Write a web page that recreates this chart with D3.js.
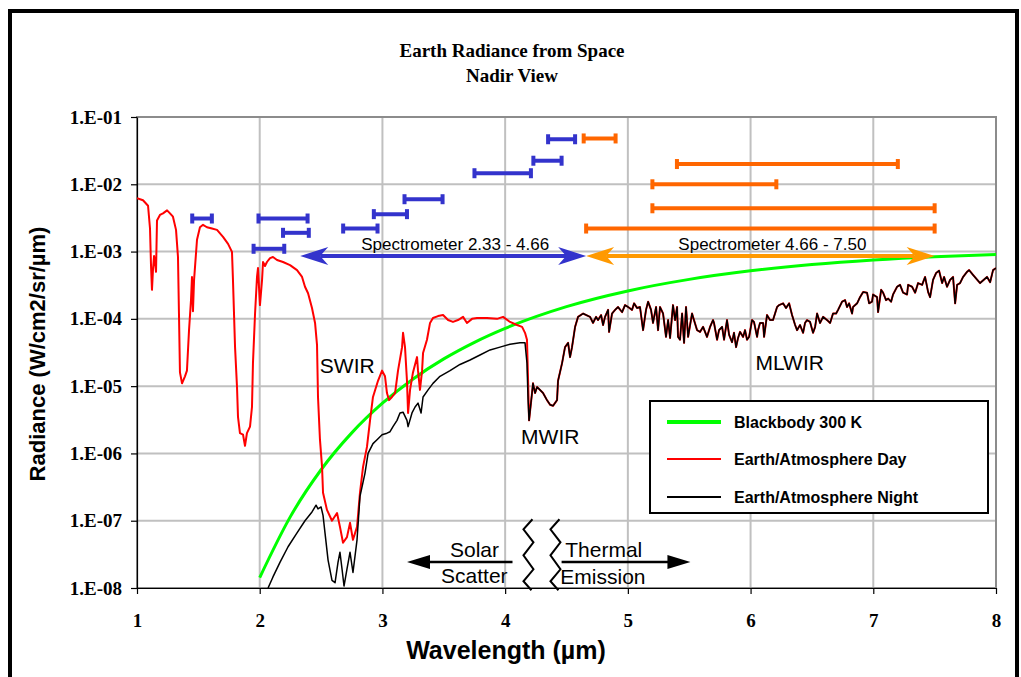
<!DOCTYPE html>
<html lang="en">
<head>
<meta charset="UTF-8">
<title>Earth Radiance from Space</title>
<script src="https://cdn.jsdelivr.net/npm/d3@7"></script>
<style>
  body { margin: 0; background: #fff; }
  svg { display: block; }
</style>
</head>
<body>
<svg width="1021" height="677"></svg>
<script>
// --- data (wavelength in µm, radiance in W/cm2/sr/µm) ---
const bbWl  = [2.0, 2.25, 2.5, 2.75, 3.0, 3.25, 3.5, 3.75, 4.0, 4.5, 5.0, 5.5, 6.0, 6.5, 7.0, 7.5, 8.0];
const bbRad = [1.43e-8, 1.15e-7, 5.72e-7, 2.02e-6, 5.57e-6, 1.28e-5, 2.54e-5, 4.48e-5, 7.22e-5,
               1.52e-4, 2.60e-4, 3.86e-4, 5.17e-4, 6.42e-4, 7.51e-4, 8.40e-4, 9.07e-4];

// day trace up to the 4.2 µm CO2 band
const dayWl = [1.000,1.049,1.090,1.106,1.114,1.122,1.130,1.139,1.147,1.155,
  1.163,1.187,1.212,1.245,1.269,1.293,1.318,1.334,1.342,1.350,
  1.367,1.391,1.407,1.424,1.440,1.448,1.456,1.465,1.489,1.513,
  1.538,1.570,1.611,1.652,1.701,1.742,1.774,1.782,1.799,1.815,
  1.823,1.839,1.864,1.880,1.896,1.921,1.937,1.945,1.962,1.978,
  1.986,2.002,2.019,2.027,2.043,2.059,2.084,2.108,2.141,2.190,
  2.247,2.304,2.345,2.369,2.394,2.426,2.451,2.467,2.475,2.491,
  2.508,2.516,2.548,2.589,2.630,2.654,2.679,2.711,2.736,2.760,
  2.793,2.817,2.842,2.874,2.899,2.923,2.964,2.997,3.021,3.037,
  3.054,3.078,3.103,3.127,3.160,3.168,3.184,3.200,3.209,3.225,
  3.249,3.282,3.290,3.306,3.323,3.331,3.363,3.388,3.412,3.453,
  3.494,3.535,3.575,3.616,3.657,3.689,3.730,3.771,3.852,3.934,
  3.983,4.040,4.097,4.138,4.162,4.178,4.187];
const dayRad = [6.2e-3,5.8e-3,4.8e-3,2.2e-3,6.3e-4,2.7e-4,5.3e-4,8.6e-4,7.0e-4,5.0e-4,
  2.9e-3,3.5e-3,3.7e-3,4.1e-3,3.7e-3,3.3e-3,2.1e-3,8.3e-4,1.2e-4,1.6e-5,
  1.1e-5,1.4e-5,1.7e-5,6.8e-5,1.9e-4,4.2e-4,1.3e-4,3.8e-4,1.5e-3,2.3e-3,
  2.5e-3,2.3e-3,2.2e-3,2.1e-3,1.65e-3,1.3e-3,9.9e-4,3.8e-4,3.8e-5,9.7e-6,
  3.5e-6,2.0e-6,1.9e-6,1.3e-6,2.0e-6,2.5e-6,4.9e-6,2.2e-5,1.2e-4,4.2e-4,
  5.7e-4,1.6e-4,3.8e-4,7.0e-4,6.1e-4,7.0e-4,8.0e-4,8.3e-4,7.5e-4,7.0e-4,
  6.3e-4,5.3e-4,4.2e-4,3.0e-4,2.4e-4,1.45e-4,8.7e-5,4.1e-5,6.9e-6,1.6e-6,
  6.3e-7,2.6e-7,1.45e-7,1.0e-7,1.3e-7,8.1e-8,4.7e-8,5.7e-8,9.3e-8,5.2e-8,
  8.1e-8,2.6e-7,6.3e-7,1.25e-6,3.1e-6,6.9e-6,1.2e-5,1.7e-5,1.4e-5,7.9e-6,
  6.2e-6,6.9e-6,7.9e-6,1.7e-5,3.8e-5,6.2e-5,3.8e-5,1.2e-5,4.0e-6,8.8e-6,
  1.6e-5,2.7e-5,1.7e-5,8.8e-6,1.7e-5,3.1e-5,4.9e-5,8.7e-5,1.03e-4,1.1e-4,
  1.14e-4,9.6e-5,9.0e-5,9.6e-5,1.07e-4,8.7e-5,1.0e-4,1.03e-4,1.03e-4,1.0e-4,
  1.07e-4,9.0e-5,8.1e-5,7.6e-5,6.2e-5,4.9e-5,1.2e-5];

// night trace up to the same band
const nightWl = [2.068,2.108,2.165,2.231,2.304,2.369,2.426,2.459,2.475,2.500,
  2.516,2.532,2.557,2.589,2.614,2.638,2.654,2.671,2.687,2.711,
  2.736,2.760,2.793,2.817,2.858,2.883,2.923,2.956,2.997,3.037,
  3.062,3.086,3.119,3.143,3.168,3.200,3.209,3.241,3.266,3.290,
  3.315,3.331,3.372,3.412,3.469,3.551,3.632,3.714,3.795,3.877,
  3.958,4.040,4.121,4.162,4.178,4.187];
const nightRad = [1.0e-8,1.46e-8,2.4e-8,4.1e-8,6.6e-8,1.0e-7,1.35e-7,1.7e-7,1.5e-7,1.6e-7,
  1.2e-7,6.6e-8,2.6e-8,1.3e-8,1.2e-8,2.4e-8,3.4e-8,1.9e-8,1.07e-8,1.9e-8,
  3.4e-8,1.7e-8,5.2e-8,2.3e-7,5.1e-7,1.0e-6,1.4e-6,1.6e-6,1.9e-6,2.0e-6,
  2.1e-6,2.5e-6,3.1e-6,4.0e-6,4.1e-6,3.1e-6,2.5e-6,4.0e-6,4.9e-6,5.6e-6,
  4.0e-6,6.9e-6,8.8e-6,1.1e-5,1.4e-5,1.7e-5,2.1e-5,2.45e-5,2.9e-5,3.45e-5,
  3.8e-5,4.2e-5,4.4e-5,4.4e-5,2.2e-5,6.2e-6];

// beyond 4.2 µm the day and night traces lie on top of each other
const tailWl = [4.195,4.219,4.227,4.244,4.260,4.284,4.309,4.341,4.366,4.390,
  4.423,4.431,4.464,4.488,4.513,4.529,4.545,4.570,4.594,4.635,
  4.692,4.716,4.741,4.757,4.782,4.798,4.814,4.839,4.847,4.871,
  4.896,4.920,4.953,4.977,5.002,5.034,5.051,5.075,5.099,5.124,
  5.148,5.165,5.189,5.205,5.230,5.246,5.262,5.287,5.311,5.328,
  5.344,5.368,5.385,5.401,5.409,5.425,5.442,5.458,5.474,5.491,
  5.523,5.531,5.564,5.588,5.613,5.629,5.645,5.670,5.694,5.702,
  5.727,5.743,5.768,5.784,5.808,5.825,5.849,5.865,5.882,5.898,
  5.914,5.939,5.955,5.971,5.988,6.012,6.028,6.053,6.061,6.077,
  6.102,6.110,6.134,6.159,6.183,6.216,6.232,6.265,6.289,6.314,
  6.338,6.363,6.379,6.403,6.428,6.444,6.460,6.485,6.509,6.526,
  6.542,6.566,6.591,6.623,6.648,6.672,6.697,6.713,6.746,6.770,
  6.786,6.803,6.827,6.835,6.868,6.892,6.917,6.949,6.966,6.990,
  6.998,7.031,7.039,7.064,7.080,7.104,7.121,7.145,7.161,7.194,
  7.218,7.243,7.275,7.284,7.316,7.341,7.365,7.398,7.422,7.447,
  7.463,7.487,7.512,7.536,7.561,7.577,7.601,7.626,7.650,7.667,
  7.683,7.707,7.732,7.764,7.781,7.813,7.870,7.927,7.952,7.976,
  8.000];
const tailRad = [3.1e-6,7.9e-6,1.1e-5,7.9e-6,9.7e-6,8.8e-6,7.9e-6,6.2e-6,5.3e-6,5.1e-6,
  6.2e-6,1.2e-5,2.2e-5,3.8e-5,4.4e-5,2.7e-5,3.8e-5,7.6e-5,1.07e-4,1.2e-4,
  1.07e-4,8.7e-5,1.07e-4,9.6e-5,1.14e-4,8.1e-5,1.07e-4,1.36e-4,6.4e-5,1.2e-4,
  1.36e-4,1.5e-4,1.26e-4,1.6e-4,1.5e-4,1.36e-4,1.7e-4,1.45e-4,1.5e-4,6.8e-5,
  1.36e-4,1.8e-4,1.36e-4,8.7e-5,1.5e-4,6.8e-5,1.5e-4,1.2e-4,5.4e-5,9.6e-5,
  5.2e-5,1.6e-4,9.6e-5,1.5e-4,5.4e-5,4.9e-5,1.2e-4,4.4e-5,1.5e-4,5.4e-5,
  1.2e-4,1.07e-4,6.8e-5,6.4e-5,7.6e-5,6.4e-5,5.4e-5,7.6e-5,9.6e-5,8.7e-5,
  4.9e-5,6.8e-5,7.6e-5,4.9e-5,9.6e-5,5.8e-5,4.5e-5,6.2e-5,3.8e-5,5.2e-5,
  6.4e-5,5.4e-5,6.8e-5,4.9e-5,5.4e-5,9.6e-5,9.0e-5,5.4e-5,6.8e-5,8.7e-5,
  8.7e-5,5.4e-5,1.14e-4,9.6e-5,9.6e-5,1.5e-4,1.6e-4,1.7e-4,1.45e-4,1.7e-4,
  1.14e-4,8.1e-5,6.8e-5,8.1e-5,6.2e-5,8.7e-5,9.6e-5,9.0e-5,6.2e-5,7.6e-5,
  1.2e-4,8.7e-5,1.07e-4,9.6e-5,8.7e-5,1.2e-4,1.2e-4,1.36e-4,1.8e-4,1.9e-4,
  1.5e-4,1.7e-4,1.2e-4,1.5e-4,1.7e-4,2.1e-4,2.5e-4,2.45e-4,1.7e-4,1.8e-4,
  2.3e-4,2.1e-4,1.26e-4,2.7e-4,2.45e-4,1.9e-4,2.0e-4,1.8e-4,2.3e-4,3.0e-4,
  3.2e-4,2.45e-4,2.3e-4,3.2e-4,3.0e-4,2.45e-4,3.4e-4,3.2e-4,4.2e-4,2.5e-4,
  2.1e-4,3.8e-4,4.8e-4,5.2e-4,3.4e-4,4.2e-4,3.0e-4,3.8e-4,4.2e-4,1.7e-4,
  3.2e-4,3.4e-4,4.2e-4,5.0e-4,5.3e-4,4.5e-4,3.4e-4,4.2e-4,3.5e-4,5.3e-4,
  5.7e-4];

// instrument bands (from, to in µm; radiance level they are drawn at)
const swirBands = [
  {from: 1.45, to: 1.61, rad: 3.1e-3}, {from: 1.99, to: 2.39, rad: 3.1e-3},
  {from: 2.19, to: 2.40, rad: 1.9e-3}, {from: 1.95, to: 2.20, rad: 1.1e-3},
  {from: 2.68, to: 2.96, rad: 2.2e-3}, {from: 2.93, to: 3.20, rad: 3.6e-3},
  {from: 3.18, to: 3.49, rad: 6.0e-3}, {from: 3.75, to: 4.21, rad: 1.46e-2},
  {from: 4.23, to: 4.46, rad: 2.24e-2}, {from: 4.35, to: 4.57, rad: 4.67e-2}];
const lwirBands = [
  {from: 4.64, to: 4.90, rad: 4.8e-2}, {from: 5.40, to: 7.20, rad: 2.0e-2},
  {from: 5.20, to: 6.21, rad: 1.0e-2}, {from: 5.20, to: 7.50, rad: 4.4e-3},
  {from: 4.66, to: 7.50, rad: 2.2e-3}];
const spectrometers = [
  {from: 2.33, to: 4.66, label: "Spectrometer 2.33 - 4.66", color: "#3333cc"},
  {from: 4.66, to: 7.50, label: "Spectrometer 4.66 - 7.50", color: "#ff9900"}];
const spectroRad = 8.6e-4;

const xTicks = [1, 2, 3, 4, 5, 6, 7, 8];
const yTicks = [1e-1, 1e-2, 1e-3, 1e-4, 1e-5, 1e-6, 1e-7, 1e-8];
const yTickLabels = ["1.E-01", "1.E-02", "1.E-03", "1.E-04", "1.E-05", "1.E-06", "1.E-07", "1.E-08"];

const SANS = "'Liberation Sans', Arial, sans-serif";
const SERIF = "'Liberation Serif', 'Times New Roman', serif";

const svg = d3.select("svg");
const plotL = 137, plotR = 996, plotT = 117, plotB = 588;

const x = d3.scaleLinear().domain([1, 8]).range([plotL, plotR]);
const y = d3.scaleLog().domain([1e-8, 1e-1]).range([plotB, plotT]);

svg.append("rect").attr("width", 1021).attr("height", 677).attr("fill", "#fff");
// outer frame
svg.append("rect").attr("x", 10).attr("y", 11).attr("width", 1007).attr("height", 720)
  .attr("fill", "none").attr("stroke", "#000").attr("stroke-width", 4);

// title
svg.append("text").attr("x", 512).attr("y", 57).attr("text-anchor", "middle")
  .attr("font-family", SERIF).attr("font-weight", "bold").attr("font-size", 19)
  .text("Earth Radiance from Space");
svg.append("text").attr("x", 512).attr("y", 82).attr("text-anchor", "middle")
  .attr("font-family", SERIF).attr("font-weight", "bold").attr("font-size", 19)
  .text("Nadir View");

// grid
const grid = svg.append("g").attr("stroke", "#c0c0c0").attr("stroke-width", 2);
grid.selectAll("line.v").data(xTicks.slice(1, -1)).join("line").attr("class", "v")
  .attr("x1", d => x(d)).attr("x2", d => x(d)).attr("y1", plotT).attr("y2", plotB);
grid.selectAll("line.h").data(yTicks.slice(1, -1)).join("line").attr("class", "h")
  .attr("x1", plotL).attr("x2", plotR).attr("y1", d => y(d)).attr("y2", d => y(d));
svg.append("rect").attr("x", plotL).attr("y", plotT).attr("width", plotR - plotL).attr("height", plotB - plotT)
  .attr("fill", "none").attr("stroke", "#8c8c8c").attr("stroke-width", 2);

// axes
const yAxis = svg.append("g").attr("transform", `translate(${plotL},0)`)
  .call(d3.axisLeft(y).tickValues(yTicks).tickFormat((d, i) => yTickLabels[i])
    .tickSize(6).tickSizeOuter(0).tickPadding(9));
yAxis.selectAll("text").attr("font-family", SERIF).attr("font-weight", "bold").attr("font-size", 19).attr("fill", "#000");
const xAxis = svg.append("g").attr("transform", `translate(0,${plotB})`)
  .call(d3.axisBottom(x).tickValues(xTicks).tickFormat(d3.format("d"))
    .tickSize(6).tickSizeOuter(0).tickPadding(20));
xAxis.selectAll("text").attr("font-family", SERIF).attr("font-weight", "bold").attr("font-size", 19).attr("fill", "#000");
svg.selectAll(".domain, .tick line").attr("stroke", "#000").attr("stroke-width", 1.2);

svg.append("text").attr("transform", "translate(45,354) rotate(-90)").attr("text-anchor", "middle")
  .attr("font-family", SANS).attr("font-weight", "bold").attr("font-size", 22)
  .text("Radiance (W/cm2/sr/\u00b5m)");
svg.append("text").attr("x", 506).attr("y", 659).attr("text-anchor", "middle")
  .attr("font-family", SANS).attr("font-weight", "bold").attr("font-size", 25)
  .text("Wavelength (\u00b5m)");

// clip for the spectra
svg.append("clipPath").attr("id", "plot").append("rect")
  .attr("x", plotL).attr("y", plotT).attr("width", plotR - plotL).attr("height", plotB - plotT);

const plot = svg.append("g").attr("clip-path", "url(#plot)");
const smooth = d3.line().x(d => x(d[0])).y(d => y(d[1])).curve(d3.curveMonotoneX);
const jagged = d3.line().x(d => x(d[0])).y(d => y(d[1]));

plot.append("path").datum(d3.zip(bbWl, bbRad))
  .attr("d", smooth).attr("fill", "none")
  .attr("stroke", "#00ff00").attr("stroke-width", 3);
plot.append("path").datum(d3.zip(dayWl.concat(tailWl), dayRad.concat(tailRad)))
  .attr("d", jagged).attr("fill", "none").attr("stroke", "#ff0000").attr("stroke-width", 2)
  .attr("stroke-linejoin", "round");
plot.append("path").datum(d3.zip(nightWl.concat(tailWl), nightRad.concat(tailRad)))
  .attr("d", jagged).attr("fill", "none").attr("stroke", "#000").attr("stroke-width", 1.5)
  .attr("stroke-linejoin", "round");

// band markers
function drawBands(data, color) {
  const g = svg.append("g").attr("fill", color).attr("stroke", color);
  g.selectAll("line").data(data).join("line")
    .attr("x1", d => x(d.from)).attr("x2", d => x(d.to))
    .attr("y1", d => y(d.rad)).attr("y2", d => y(d.rad)).attr("stroke-width", 4);
  const caps = data.flatMap(d => [[d.from, d.rad], [d.to, d.rad]]);
  g.selectAll("rect").data(caps).join("rect")
    .attr("x", d => x(d[0]) - 2).attr("y", d => y(d[1]) - 5)
    .attr("width", 4).attr("height", 10).attr("stroke", "none");
}
drawBands(swirBands, "#3333cc");
drawBands(lwirBands, "#ff6600");

// arrowhead helper: dir -1 points left, +1 points right
function head(tipX, tipY, dir, color, len, half, notch) {
  const bx = tipX - dir * len;
  svg.append("path")
    .attr("d", `M${tipX},${tipY}L${bx},${tipY - half}L${bx + dir * notch},${tipY}L${bx},${tipY + half}Z`)
    .attr("fill", color);
}

const sy = y(spectroRad);
spectrometers.forEach(s => {
  const x0 = x(s.from), x1 = x(s.to);
  svg.append("line").attr("x1", x0 + 20).attr("x2", x1 - 20).attr("y1", sy).attr("y2", sy)
    .attr("stroke", s.color).attr("stroke-width", 4);
  head(x0, sy, -1, s.color, 28, 9, 8);
  head(x1, sy, 1, s.color, 28, 9, 8);
  svg.append("text").attr("x", (x0 + x1) / 2 + 12).attr("y", sy - 6).attr("text-anchor", "middle")
    .attr("font-family", SANS).attr("font-size", 17).text(s.label);
});

// region labels
const regionLabels = [
  {text: "SWIR", wl: 2.49, rad: 1.55e-5},
  {text: "MWIR", wl: 4.13, rad: 1.4e-6},
  {text: "MLWIR", wl: 6.04, rad: 1.75e-5}];
svg.selectAll("text.region").data(regionLabels).join("text").attr("class", "region")
  .attr("x", d => x(d.wl)).attr("y", d => y(d.rad))
  .attr("font-family", SANS).attr("font-size", 21).text(d => d.text);

// solar / thermal annotation
const ay = y(2.44e-8);
svg.append("line").attr("x1", x(3.35)).attr("x2", x(4.06)).attr("y1", ay).attr("y2", ay)
  .attr("stroke", "#000").attr("stroke-width", 2.5);
head(x(3.2), ay, -1, "#000", 23, 7, 0);
svg.append("line").attr("x1", x(4.46)).attr("x2", x(5.33)).attr("y1", ay).attr("y2", ay)
  .attr("stroke", "#000").attr("stroke-width", 2.5);
head(x(5.51), ay, 1, "#000", 23, 7, 0);
const annot = svg.append("g").attr("font-family", SANS).attr("font-size", 21);
annot.append("text").attr("x", x(3.95)).attr("y", ay - 5).attr("text-anchor", "end").text("Solar");
annot.append("text").attr("x", x(4.02)).attr("y", ay + 21).attr("text-anchor", "end").text("Scatter");
annot.append("text").attr("x", x(4.49)).attr("y", ay - 5).text("Thermal");
annot.append("text").attr("x", x(4.45)).attr("y", ay + 22).text("Emission");

// break marks between the two regimes
const zig = [[4, 0], [-5, 10], [5, 23], [-5, 36], [5, 50], [-5, 62], [3, 71]];
[4.19, 4.41].forEach(wl => {
  const cx = x(wl), z0 = y(1.05e-7);
  svg.append("path").attr("d", d3.line()(zig.map(p => [cx + p[0], z0 + p[1]])))
    .attr("fill", "none").attr("stroke", "#000").attr("stroke-width", 2);
});

// legend
const legend = svg.append("g");
legend.append("rect").attr("x", 650).attr("y", 401).attr("width", 338).attr("height", 112)
  .attr("fill", "#fff").attr("stroke", "#000").attr("stroke-width", 2);
const legendItems = [
  {label: "Blackbody 300 K", color: "#00ff00", width: 4, ly: 422},
  {label: "Earth/Atmosphere Day", color: "#ff0000", width: 2, ly: 459},
  {label: "Earth/Atmosphere Night", color: "#000", width: 2, ly: 497}];
legendItems.forEach(it => {
  legend.append("line").attr("x1", 667).attr("x2", 721).attr("y1", it.ly).attr("y2", it.ly)
    .attr("stroke", it.color).attr("stroke-width", it.width);
  legend.append("text").attr("x", 734).attr("y", it.ly + 5.5)
    .attr("font-family", SANS).attr("font-weight", "bold").attr("font-size", 16).text(it.label);
});
</script>
</body>
</html>
